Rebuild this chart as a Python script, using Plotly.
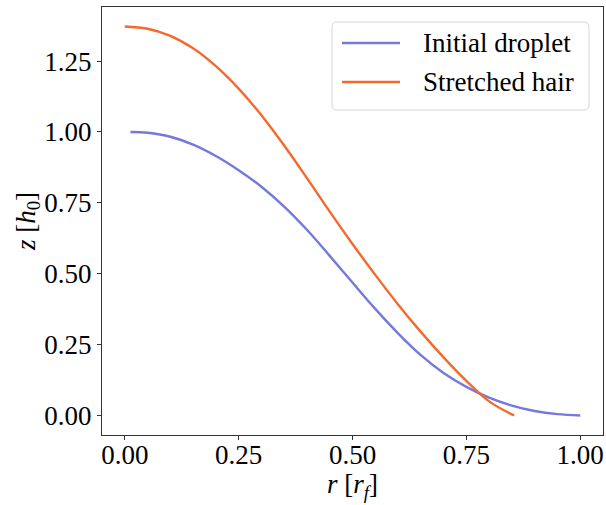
import plotly.graph_objects as go

# Droplet profiles z(r), in units of h0 over r_f
r_initial = [0.0125, 0.05, 0.10, 0.15, 0.20, 0.25, 0.30, 0.35, 0.40, 0.45, 0.50,
             0.55, 0.60, 0.65, 0.70, 0.75, 0.80, 0.85, 0.90, 0.95, 1.00]
z_initial = [1.000, 0.997, 0.983, 0.955, 0.915, 0.865, 0.807, 0.737, 0.655, 0.563, 0.469,
             0.376, 0.290, 0.213, 0.150, 0.101, 0.063, 0.035, 0.016, 0.005, 0.000]

r_stretched = [0.00, 0.05, 0.10, 0.15, 0.20, 0.25, 0.30, 0.35, 0.40, 0.45, 0.50,
               0.55, 0.60, 0.65, 0.70, 0.75, 0.80, 0.855]
z_stretched = [1.372, 1.364, 1.339, 1.295, 1.232, 1.153, 1.059, 0.952, 0.837, 0.719, 0.605,
               0.496, 0.392, 0.295, 0.205, 0.122, 0.050, 0.000]

series_names = ["Initial droplet", "Stretched hair"]
series_colors = ["#7479db", "#f5692b"]

tick_vals = [0.0, 0.25, 0.5, 0.75, 1.0, 1.25]
x_tick_labels = ["0.00", "0.25", "0.50", "0.75", "1.00"]
y_tick_labels = ["0.00", "0.25", "0.50", "0.75", "1.00", "1.25"]

FONT = "Liberation Serif, Times New Roman, serif"
FS = 27

fig = go.Figure()
for rr, zz, name, col in zip([r_initial, r_stretched], [z_initial, z_stretched],
                             series_names, series_colors):
    fig.add_trace(go.Scatter(x=rr, y=zz, mode="lines", name=name,
                             line=dict(color=col, width=2.4, shape="spline", smoothing=1.0),
                             showlegend=False))

# Axis ranges with 5 % padding around the data
xmin, xmax = 0.0, 1.0
ymin, ymax = 0.0, max(z_stretched)
px_ = 0.05 * (xmax - xmin)
py_ = 0.05 * (ymax - ymin)

axis_common = dict(showgrid=False, zeroline=False, showline=True, mirror=True,
                   linecolor="#333333", linewidth=1.2, ticks="outside", ticklen=4,
                   tickwidth=1.2, tickcolor="#333333",
                   tickfont=dict(family=FONT, size=FS, color="black"))

fig.update_xaxes(range=[xmin - px_, xmax + px_], tickvals=tick_vals[:5],
                 ticktext=x_tick_labels, ticklabelstandoff=-9,
                 title=dict(text="<i>r</i> [<i>r<sub>f</sub></i>]", standoff=0,
                            font=dict(family=FONT, size=FS, color="black")),
                 **axis_common)
fig.update_yaxes(range=[ymin - py_, ymax + py_], tickvals=tick_vals,
                 ticktext=y_tick_labels,
                 title=dict(text="<i>z</i> [<i>h</i><sub>0</sub>]", standoff=0,
                            font=dict(family=FONT, size=FS, color="black")),
                 **axis_common)

# Legend box drawn in paper coordinates (rounded frame, long line samples)
W, H = 606, 505
ml, mr, mt, mb = 102, 3, 7, 70
pw, ph = W - ml - mr, H - mt - mb


def px2paper(x, y):
    return (x - ml) / pw, 1 - (y - mt) / ph


x0, y0 = px2paper(332, 22)
x1, y1 = px2paper(589, 110)
rad_x, rad_y = 5 / pw, 5 / ph
path = (f"M{x0 + rad_x},{y0} L{x1 - rad_x},{y0} Q{x1},{y0} {x1},{y0 - rad_y} "
        f"L{x1},{y1 + rad_y} Q{x1},{y1} {x1 - rad_x},{y1} L{x0 + rad_x},{y1} "
        f"Q{x0},{y1} {x0},{y1 + rad_y} L{x0},{y0 - rad_y} Q{x0},{y0} {x0 + rad_x},{y0} Z")
fig.add_shape(type="path", path=path, xref="paper", yref="paper",
              line=dict(color="#d6d6d6", width=1), fillcolor="rgba(255,255,255,0.85)")

for i, (name, col) in enumerate(zip(series_names, series_colors)):
    yc = 43 + 39 * i
    lx0, ly = px2paper(342, yc)
    lx1, _ = px2paper(400, yc)
    fig.add_shape(type="line", x0=lx0, x1=lx1, y0=ly, y1=ly, xref="paper", yref="paper",
                  line=dict(color=col, width=2.4))
    tx, _ = px2paper(421, yc)
    fig.add_annotation(x=tx, y=ly, xref="paper", yref="paper", text=name,
                       showarrow=False, xanchor="left", yanchor="middle",
                       font=dict(family=FONT, size=FS, color="black"))

fig.update_layout(width=W, height=H, margin=dict(l=ml, r=mr, t=mt, b=mb),
                  plot_bgcolor="white", paper_bgcolor="white",
                  font=dict(family=FONT, size=FS, color="black"))

fig.write_html("out.html")
